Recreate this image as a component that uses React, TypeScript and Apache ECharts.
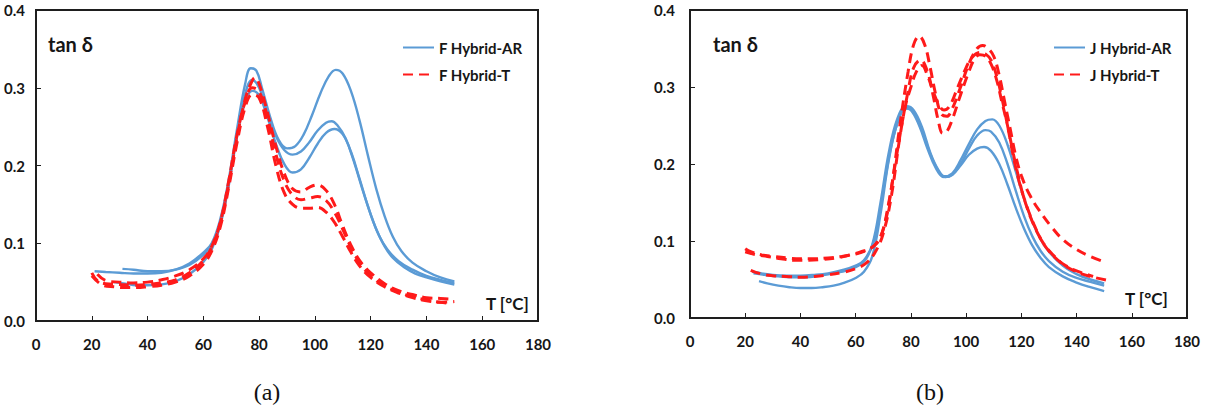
import React, { useEffect, useRef } from "react";
import * as echarts from "echarts";

type Pt = [number, number];

// ---- Panel (a) : F Hybrid ----
const fArA1: Pt[] = [[21,0.064],[25,0.063],[30,0.062],[35,0.061],[40,0.061],[45,0.062],[50,0.066],[55,0.074],[60,0.088],[63,0.100],[66,0.130],[69,0.180],[72,0.245],[75,0.305],[77,0.325],[79,0.322],[81,0.300],[84,0.262],[87,0.233],[90,0.222],[93,0.225],[96,0.240],[99,0.265],[102,0.293],[105,0.315],[107.5,0.323],[110,0.318],[113,0.295],[116,0.258],[119,0.213],[122,0.170],[125,0.135],[128,0.108],[131,0.090],[135,0.075],[140,0.064],[145,0.056],[150,0.051]];
const fArA2: Pt[] = [[31,0.067],[35,0.066],[40,0.064],[45,0.064],[50,0.066],[55,0.072],[60,0.085],[63,0.098],[66,0.125],[69,0.175],[72,0.240],[75,0.292],[77.5,0.310],[80,0.300],[83,0.268],[86,0.238],[89,0.220],[92,0.214],[95,0.218],[98,0.230],[101,0.245],[104,0.255],[106,0.257],[108,0.252],[111,0.235],[114,0.205],[117,0.170],[120,0.137],[123,0.110],[126,0.092],[130,0.077],[135,0.066],[140,0.058],[145,0.053],[150,0.049]];
const fArA3: Pt[] = [[28,0.050],[32,0.048],[36,0.046],[40,0.046],[45,0.047],[50,0.051],[55,0.060],[60,0.076],[63,0.092],[66,0.122],[69,0.172],[72,0.235],[75,0.282],[77.5,0.296],[80,0.290],[83,0.262],[86,0.228],[89,0.202],[92,0.191],[95,0.195],[98,0.210],[101,0.228],[104,0.242],[107,0.247],[110,0.240],[113,0.217],[116,0.183],[119,0.148],[122,0.118],[125,0.096],[128,0.081],[132,0.069],[136,0.061],[140,0.056],[145,0.051],[150,0.047]];
const fT1: Pt[] = [[20,0.062],[22,0.052],[25,0.048],[30,0.047],[35,0.046],[40,0.047],[45,0.049],[50,0.053],[55,0.062],[60,0.078],[63,0.095],[66,0.125],[69,0.175],[72,0.235],[75,0.285],[77,0.305],[78.5,0.313],[80,0.305],[83,0.268],[86,0.225],[89,0.190],[92,0.170],[95,0.166],[98,0.172],[101,0.175],[104,0.168],[107,0.150],[110,0.122],[113,0.097],[116,0.078],[120,0.062],[125,0.048],[130,0.039],[135,0.034],[140,0.030],[145,0.029],[150,0.028]];
const fT2: Pt[] = [[22,0.060],[25,0.052],[30,0.050],[35,0.049],[40,0.050],[45,0.053],[50,0.058],[55,0.066],[60,0.080],[63,0.096],[66,0.126],[69,0.178],[72,0.238],[75,0.282],[77.5,0.300],[80,0.295],[83,0.262],[86,0.215],[89,0.180],[92,0.162],[95,0.156],[98,0.158],[101,0.160],[104,0.155],[107,0.140],[110,0.118],[113,0.094],[116,0.075],[120,0.058],[125,0.045],[130,0.037],[135,0.031],[140,0.027],[145,0.024],[148,0.023]];
const fT3: Pt[] = [[20,0.058],[24,0.046],[28,0.044],[32,0.043],[36,0.043],[40,0.044],[45,0.046],[50,0.050],[55,0.058],[60,0.073],[63,0.090],[66,0.120],[69,0.170],[72,0.228],[75,0.275],[77.5,0.291],[80,0.287],[83,0.250],[86,0.200],[89,0.165],[92,0.150],[95,0.145],[98,0.145],[101,0.146],[104,0.140],[107,0.127],[110,0.108],[113,0.088],[116,0.071],[120,0.056],[125,0.044],[130,0.036],[135,0.030],[140,0.026],[145,0.024],[150,0.025]];

// ---- Panel (b) : J Hybrid ----
const jAr1: Pt[] = [[22.5,0.060],[26,0.058],[30,0.056],[35,0.055],[40,0.055],[45,0.056],[50,0.058],[55,0.062],[60,0.068],[63,0.075],[66,0.095],[69,0.150],[72,0.215],[75,0.258],[78,0.274],[80,0.272],[83,0.252],[86,0.223],[89,0.197],[92,0.184],[95,0.188],[98,0.205],[101,0.226],[104,0.245],[107,0.256],[109.5,0.258],[112,0.250],[115,0.225],[118,0.190],[121,0.155],[124,0.125],[127,0.102],[130,0.086],[135,0.068],[140,0.057],[145,0.050],[150,0.045]];
const jAr2: Pt[] = [[23,0.058],[27,0.056],[32,0.054],[37,0.053],[42,0.053],[47,0.055],[52,0.058],[57,0.062],[61,0.068],[64,0.078],[67,0.105],[70,0.165],[73,0.225],[76,0.262],[78.5,0.275],[81,0.270],[84,0.248],[87,0.215],[90,0.192],[92.5,0.183],[95,0.186],[98,0.200],[101,0.220],[104,0.237],[107,0.244],[109,0.242],[112,0.228],[115,0.200],[118,0.165],[121,0.132],[124,0.106],[127,0.087],[130,0.074],[135,0.060],[140,0.052],[145,0.047],[150,0.042]];
const jAr3: Pt[] = [[25,0.048],[28,0.045],[32,0.042],[36,0.040],[40,0.039],[44,0.039],[48,0.040],[52,0.042],[56,0.046],[60,0.052],[63,0.060],[66,0.080],[69,0.135],[72,0.205],[75,0.252],[78,0.272],[80,0.270],[83,0.250],[86,0.220],[89,0.195],[92,0.183],[95,0.186],[98,0.198],[101,0.212],[104,0.220],[106.5,0.222],[109,0.217],[112,0.200],[115,0.173],[118,0.143],[121,0.116],[124,0.094],[127,0.078],[130,0.066],[135,0.054],[140,0.046],[145,0.040],[150,0.035]];
const jT1: Pt[] = [[20,0.090],[22,0.086],[26,0.082],[30,0.080],[35,0.078],[40,0.077],[45,0.077],[50,0.078],[55,0.080],[60,0.083],[64,0.088],[67,0.095],[70,0.115],[73,0.170],[76,0.250],[79,0.320],[81,0.355],[83,0.366],[85,0.355],[87,0.325],[89,0.290],[91,0.265],[93,0.262],[95,0.272],[98,0.300],[101,0.330],[104,0.350],[106,0.354],[108,0.350],[110,0.340],[112,0.315],[114,0.280],[116,0.245],[118,0.210],[120,0.185],[123,0.160],[127,0.137],[131,0.118],[135,0.102],[140,0.089],[145,0.080],[150,0.073]];
const jT2: Pt[] = [[22,0.062],[26,0.057],[30,0.055],[35,0.054],[40,0.053],[45,0.054],[50,0.056],[55,0.059],[60,0.064],[64,0.072],[67,0.085],[70,0.110],[73,0.160],[76,0.235],[79,0.295],[81,0.325],[83.5,0.335],[86,0.320],[88,0.290],[90,0.255],[91.5,0.240],[93,0.242],[95,0.258],[98,0.290],[101,0.320],[103,0.336],[105,0.342],[107,0.340],[109,0.330],[111,0.310],[113,0.280],[115,0.250],[117,0.215],[119,0.183],[121,0.155],[124,0.125],[127,0.103],[130,0.087],[135,0.070],[140,0.060],[145,0.054],[151,0.049]];
const jT3: Pt[] = [[20,0.086],[24,0.082],[28,0.080],[33,0.077],[38,0.075],[43,0.075],[48,0.076],[53,0.078],[58,0.082],[62,0.086],[66,0.092],[69,0.105],[72,0.150],[75,0.215],[78,0.275],[80,0.300],[82,0.320],[84,0.328],[86,0.315],[88,0.295],[90,0.278],[92,0.270],[94,0.275],[97,0.300],[100,0.325],[102,0.338],[105,0.345],[107,0.343],[109,0.335],[111,0.315],[113,0.285],[115,0.250],[117,0.212],[119,0.180],[122,0.145],[125,0.118],[128,0.097],[132,0.080],[136,0.068],[141,0.060],[146,0.054]];

const seriesNames = ["F Hybrid-AR", "F Hybrid-T", "J Hybrid-AR", "J Hybrid-T"];
const xTicks = { min: 0, max: 180, interval: 20 };
const yTicks = { min: 0, max: 0.4, interval: 0.1 };

const BLUE = "#5b9bd5";
const RED = "#ff1a1a";
const AXIS = "#1e1e1e";
const INK = "#161616";
const FONT = "Lato, 'Open Sans', sans-serif";
const SERIF = "'Liberation Serif', 'DejaVu Serif', serif";

export default function App() {
  const ref = useRef<HTMLDivElement>(null);
  useEffect(() => {
    if (!ref.current) return;
    const chart = echarts.init(ref.current, undefined, { renderer: "svg" });

    const blueLine = (name: string, data: Pt[], idx: number) => ({
      type: "line",
      name,
      xAxisIndex: idx,
      yAxisIndex: idx,
      data,
      smooth: 0.4,
      symbol: "none",
      lineStyle: { color: BLUE, width: 2.4 },
      itemStyle: { color: BLUE },
      z: 2,
    });
    const redLine = (name: string, data: Pt[], idx: number) => ({
      type: "line",
      name,
      xAxisIndex: idx,
      yAxisIndex: idx,
      data,
      smooth: 0.4,
      symbol: "none",
      lineStyle: { color: RED, width: 3, type: [10, 6] },
      itemStyle: { color: RED },
      z: 3,
    });

    const xAxisBase = (idx: number) => ({
      type: "value",
      gridIndex: idx,
      ...xTicks,
      axisLine: { show: true, onZero: false, lineStyle: { color: AXIS, width: 2 } },
      axisTick: { show: true, inside: true, length: 5, lineStyle: { color: AXIS, width: 1 } },
      splitLine: { show: false },
      axisLabel: { margin: 15, fontSize: 15, fontWeight: "bold", color: INK, fontFamily: FONT },
    });
    const yAxisBase = (idx: number, margin: number) => ({
      type: "value",
      gridIndex: idx,
      ...yTicks,
      axisLine: { show: true, onZero: false, lineStyle: { color: AXIS, width: 2 } },
      axisTick: { show: true, inside: true, length: 5, lineStyle: { color: AXIS, width: 1 } },
      splitLine: { show: false },
      axisLabel: {
        margin,
        fontSize: 15,
        fontWeight: "bold",
        color: INK,
        fontFamily: FONT,
        formatter: (v: number) => v.toFixed(1),
      },
    });

    const legendBase = (names: string[], left: number) => ({
      orient: "vertical",
      left,
      top: 35,
      itemWidth: 31,
      itemHeight: 14,
      itemGap: 12,
      data: names,
      itemStyle: { opacity: 0 },
      textStyle: { fontSize: 15, fontWeight: "bold", color: INK, fontFamily: FONT },
    });

    const label = (text: string, x: number, y: number, size: number) => ({
      type: "text",
      x,
      y,
      style: { text, fontSize: size, fontWeight: "bold", fill: INK, fontFamily: FONT, textVerticalAlign: "middle" },
    });
    const caption = (text: string, x: number, y: number) => ({
      type: "text",
      x,
      y,
      style: { text, fontSize: 24, fill: "#111", fontFamily: SERIF, textAlign: "center", textVerticalAlign: "middle" },
    });

    chart.setOption({
      animation: false,
      backgroundColor: "#ffffff",
      grid: [
        { left: 36, top: 10, width: 502, height: 311, show: true, borderColor: AXIS, borderWidth: 2, containLabel: false },
        { left: 690, top: 10, width: 497, height: 308, show: true, borderColor: AXIS, borderWidth: 2, containLabel: false },
      ],
      xAxis: [xAxisBase(0), xAxisBase(1)],
      yAxis: [yAxisBase(0, 11), yAxisBase(1, 15)],
      legend: [
        legendBase([seriesNames[0], seriesNames[1]], 397),
        legendBase([seriesNames[2], seriesNames[3]], 1048),
      ],
      series: [
        blueLine(seriesNames[0], fArA1, 0),
        blueLine(seriesNames[0], fArA2, 0),
        blueLine(seriesNames[0], fArA3, 0),
        redLine(seriesNames[1], fT1, 0),
        redLine(seriesNames[1], fT2, 0),
        redLine(seriesNames[1], fT3, 0),
        blueLine(seriesNames[2], jAr1, 1),
        blueLine(seriesNames[2], jAr2, 1),
        blueLine(seriesNames[2], jAr3, 1),
        redLine(seriesNames[3], jT1, 1),
        redLine(seriesNames[3], jT2, 1),
        redLine(seriesNames[3], jT3, 1),
      ],
      graphic: [
        label("tan δ", 48, 44, 20),
        label("tan δ", 713, 44, 20),
        label("T [°C]", 486, 303, 17),
        label("T [°C]", 1125, 298, 17),
        caption("(a)", 267, 392),
        caption("(b)", 930, 392),
      ],
    });
    return () => chart.dispose();
  }, []);

  return (
    <div
      ref={ref}
      style={{ position: "fixed", left: 0, top: 0, width: 1206, height: 412, background: "#fff" }}
    />
  );
}
